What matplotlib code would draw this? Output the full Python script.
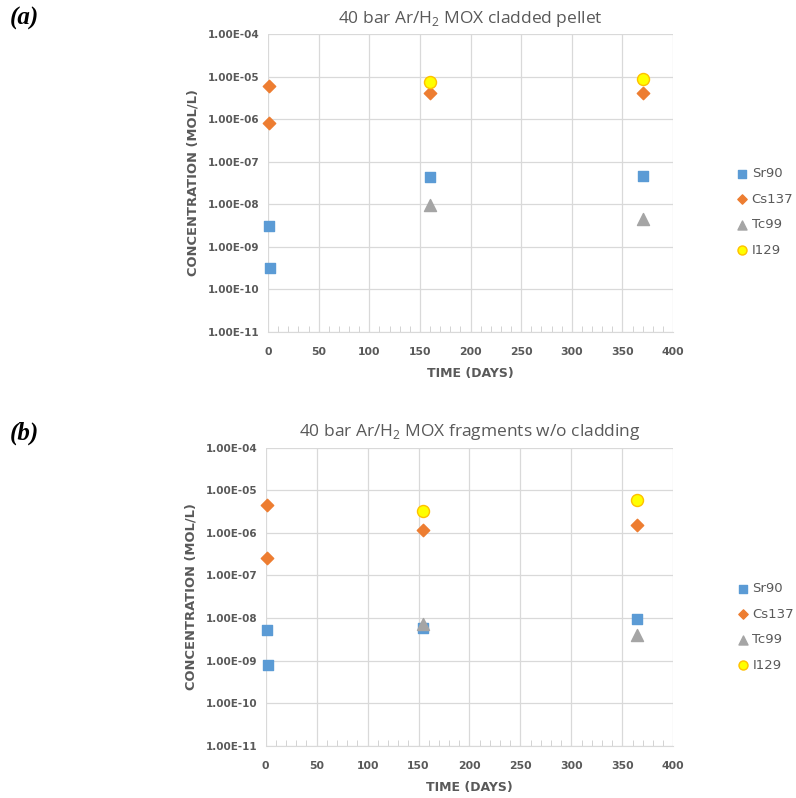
import matplotlib
matplotlib.use("Agg")
import matplotlib.pyplot as plt
from matplotlib.ticker import FixedLocator, MultipleLocator, FuncFormatter

# panel (a): cladded pellet
a_sr_days = [1, 2, 160, 370]
a_sr_conc = [3.1e-9, 3.1e-10, 4.3e-8, 4.6e-8]
a_cs_days = [1, 1, 160, 370]
a_cs_conc = [5.9e-6, 8.2e-7, 4.1e-6, 4.2e-6]
a_tc_days = [160, 370]
a_tc_conc = [9.8e-9, 4.4e-9]
a_i_days = [160, 370]
a_i_conc = [7.6e-6, 8.8e-6]

# panel (b): fragments w/o cladding
b_sr_days = [1, 2, 154, 364]
b_sr_conc = [5.2e-9, 8.0e-10, 5.8e-9, 9.3e-9]
b_cs_days = [1, 1.5, 154, 364]
b_cs_conc = [4.5e-6, 2.6e-7, 1.14e-6, 1.5e-6]
b_tc_days = [154, 364]
b_tc_conc = [7.1e-9, 3.9e-9]
b_i_days = [154, 364]
b_i_conc = [3.3e-6, 5.8e-6]

y_ticks = [1e-11, 1e-10, 1e-9, 1e-8, 1e-7, 1e-6, 1e-5, 1e-4]

GRAY = '#595959'
GRID = '#d9d9d9'


def sci_label(v, pos):
    m, e = f"{v:.2E}".split("E")
    return f"{m}E{int(e):+03d}".replace("+", "")


def panel(ax, title, sr, cs, tc, i129, leg_y):
    ax.scatter(*sr, marker='s', s=62, color='#5b9bd5', label='Sr90',
               zorder=3, clip_on=False)
    ax.scatter(*cs, marker='D', s=40, color='#ed7d31', label='Cs137',
               zorder=3, clip_on=False)
    ax.scatter(*tc, marker='^', s=75, color='#a5a5a5', label='Tc99',
               zorder=3, clip_on=False)
    ax.scatter(*i129, marker='o', s=75, color='#ffff00',
               edgecolor='#ffc000', linewidth=1.0, label='I129',
               zorder=3, clip_on=False)
    ax.set_yscale('log')
    ax.set_ylim(1e-11, 1e-4)
    ax.set_xlim(0, 400)
    ax.yaxis.set_major_locator(FixedLocator(y_ticks))
    ax.yaxis.set_minor_locator(FixedLocator([]))
    ax.yaxis.set_major_formatter(FuncFormatter(sci_label))
    ax.xaxis.set_major_locator(MultipleLocator(50))
    ax.xaxis.set_minor_locator(MultipleLocator(10))
    ax.grid(True, which='major', color=GRID, linewidth=0.9)
    ax.set_axisbelow(True)
    for side in ['top', 'right', 'left']:
        ax.spines[side].set_visible(False)
    ax.spines['bottom'].set_color(GRID)
    ax.tick_params(axis='x', which='major', length=0, pad=11,
                   labelsize=7.8, labelcolor=GRAY)
    ax.tick_params(axis='x', which='minor', direction='in', length=4,
                   color='#cccccc')
    ax.tick_params(axis='y', length=0, pad=6, labelsize=7.5, labelcolor=GRAY)
    for lab in ax.get_xticklabels() + ax.get_yticklabels():
        lab.set_fontweight('bold')
    ax.set_title(title, color=GRAY, fontsize=12.5, pad=8, family='Open Sans')
    ax.set_xlabel('TIME (DAYS)', color=GRAY, fontsize=9, fontweight='bold',
                  labelpad=7)
    ax.set_ylabel('CONCENTRATION (MOL/L)', color=GRAY, fontsize=9.4,
                  fontweight='bold', labelpad=6)
    leg = ax.legend(loc='center left', bbox_to_anchor=(1.155, leg_y),
                    frameon=False, fontsize=9.5, handlelength=1.0,
                    handletextpad=0.2, labelspacing=0.95, borderaxespad=0,
                    borderpad=0, markerscale=0.75)
    for t in leg.get_texts():
        t.set_color(GRAY)


plt.rcParams['mathtext.fontset'] = 'custom'
plt.rcParams['mathtext.rm'] = 'Open Sans'

fig = plt.figure(figsize=(7.96, 7.98), dpi=100)
ax1 = fig.add_axes([0.3367, 0.584, 0.5088, 0.3734])
ax2 = fig.add_axes([0.3338, 0.0655, 0.512, 0.3737])

panel(ax1, r'40 bar Ar/H$_2$ MOX cladded pellet',
      (a_sr_days, a_sr_conc), (a_cs_days, a_cs_conc),
      (a_tc_days, a_tc_conc), (a_i_days, a_i_conc), 0.403)
panel(ax2, r'40 bar Ar/H$_2$ MOX fragments w/o cladding',
      (b_sr_days, b_sr_conc), (b_cs_days, b_cs_conc),
      (b_tc_days, b_tc_conc), (b_i_days, b_i_conc), 0.398)

fig.text(0.012, 0.977, '(a)', fontsize=18, fontweight='bold', style='italic',
         family='Liberation Serif', va='center')
fig.text(0.012, 0.457, '(b)', fontsize=18, fontweight='bold', style='italic',
         family='Liberation Serif', va='center')

fig.savefig('out.png', dpi=100)
